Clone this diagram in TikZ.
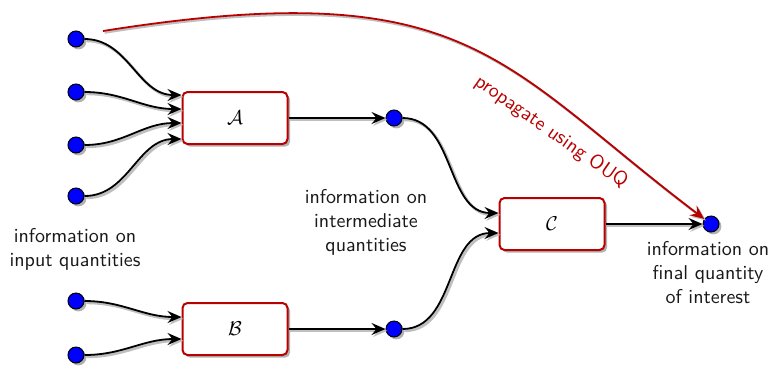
\documentclass[tikz,border=0pt]{standalone}
\usetikzlibrary{arrows.meta,shadows}
\definecolor{myred}{RGB}{185,0,0}
\tikzset{
  dot/.style={circle, fill=blue, draw=black, line width=0.5pt, minimum size=8pt, inner sep=0pt,
    drop shadow={shadow xshift=1.2pt, shadow yshift=-1.2pt, opacity=0.3, fill=black}},
  block/.style={rectangle, rounded corners=2.5pt, draw=myred, line width=1pt, fill=white,
    minimum width=52.5pt, minimum height=26pt,
    drop shadow={shadow xshift=1.3pt, shadow yshift=-1.3pt, opacity=0.3, fill=black}},
  tip/.style={-{Stealth[length=7pt,width=6pt,inset=2.5pt]}},
  conn/.style={line width=0.9pt, tip,
    preaction={draw=black!25, line width=1.4pt, transform canvas={xshift=0.9pt,yshift=-0.9pt}}},
  redconn/.style={draw=myred, line width=0.9pt, tip,
    preaction={draw=black!25, line width=1.2pt, transform canvas={xshift=0.8pt,yshift=-0.8pt}}},
  lbl/.style={font=\sffamily, align=center, text=black!90}
}
\begin{document}
\begin{tikzpicture}[x=0.5pt,y=-0.5pt]
\useasboundingbox (0,0) rectangle (775,365);
% input dots
\node[dot] (i1) at (76,39) {};
\node[dot] (i2) at (76,92) {};
\node[dot] (i3) at (76,145) {};
\node[dot] (i4) at (76,196) {};
\node[dot] (i5) at (76,301) {};
\node[dot] (i6) at (76,355) {};
% blocks
\node[block] (A) at (235,118) {$\mathcal{A}$};
\node[block] (B) at (235,329) {$\mathcal{B}$};
\node[block] (C) at (552,224) {$\mathcal{C}$};
% intermediate and final dots
\node[dot] (m1) at (394,118) {};
\node[dot] (m2) at (394,329) {};
\node[dot] (f) at (711,224) {};
% labels
\node[lbl] (lin) at (75,249) {information on\\input quantities};
\node[lbl] (lmid) at (366,222) {information on\\intermediate\\quantities};
\node[lbl] (lfin) at (708,273) {information on\\final quantity\\of interest};
% connectors
\draw[conn] (i1) to[out=0,in=180] ([yshift=11.5pt]A.west);
\draw[conn] (i2) to[out=0,in=180] ([yshift=4.5pt]A.west);
\draw[conn] (i3) to[out=0,in=180] ([yshift=-2.5pt]A.west);
\draw[conn] (i4) to[out=0,in=180] ([yshift=-10.5pt]A.west);
\draw[conn] (i5) to[out=0,in=180] ([yshift=6pt]B.west);
\draw[conn] (i6) to[out=0,in=180] ([yshift=-5pt]B.west);
\draw[conn] (A) -- (m1);
\draw[conn] (B) -- (m2);
\draw[conn] (m1) to[out=0,in=180] ([yshift=5.5pt]C.west);
\draw[conn] (m2) to[out=0,in=180] ([yshift=-4.5pt]C.west);
\draw[conn] (C) -- (f);
% OUQ arrow
\coordinate (rs) at (103,31);
\draw[redconn] (rs) .. controls (469,-27) and (497,62) .. (f);
\node[lbl, text=myred, rotate=-35] (ouq) at (551,132) {propagate using OUQ};
\end{tikzpicture}
\end{document}
